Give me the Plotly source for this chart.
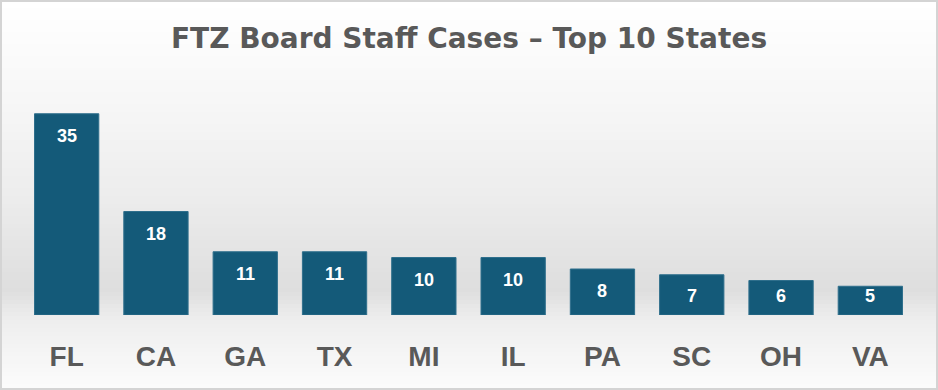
import plotly.graph_objects as go

states = ["FL", "CA", "GA", "TX", "MI", "IL", "PA", "SC", "OH", "VA"]
cases = [35, 18, 11, 11, 10, 10, 8, 7, 6, 5]
title_text = "FTZ Board Staff Cases \u2013 Top 10 States"

W, H = 938, 390
ML, MR, MT, MB = 22, 23, 85, 75
PH = H - MT - MB
YMAX = 40
PPU = PH / YMAX  # pixels per unit

TXT = "#595959"

fig = go.Figure()
fig.add_trace(go.Bar(
    x=states, y=cases,
    marker=dict(color="#145a79", line=dict(color="#2f6f8c", width=1)),
    hoverinfo="x+y",
))

# inside-end labels, kept clear of the baseline for short bars
for s, v in zip(states, cases):
    shift = min(22, v * PPU - 19)
    fig.add_annotation(x=s, y=v, text=f"<b>{v}</b>", showarrow=False,
                       yanchor="middle", yshift=-shift,
                       font=dict(family="Liberation Sans", size=18, color="white"))

# background gradient (white -> light grey -> white)
stops = [(0, 255), (100, 247), (200, 236), (290, 222), (320, 238), (390, 252)]

def grey_at(Y):
    for (y0, g0), (y1, g1) in zip(stops, stops[1:]):
        if y0 <= Y <= y1:
            t = (Y - y0) / (y1 - y0)
            return round(g0 + t * (g1 - g0))
    return 255

shapes = []
step = 4
for Y in range(0, H, step):
    g = grey_at(Y + step / 2)
    y0 = (H - MB - (Y + step)) / PH
    y1 = (H - MB - Y) / PH
    shapes.append(dict(type="rect", xref="paper", yref="paper",
                       x0=-ML / (W - ML - MR), x1=1 + MR / (W - ML - MR),
                       y0=y0, y1=y1, layer="below", line=dict(width=0),
                       fillcolor=f"rgb({g},{g},{g})"))
# outer border
shapes.append(dict(type="rect", xref="paper", yref="paper",
                   x0=-(ML - 1) / (W - ML - MR), x1=1 + (MR - 1) / (W - ML - MR),
                   y0=-(MB - 1) / PH, y1=1 + (MT - 1) / PH,
                   layer="above", line=dict(width=2, color="#d4d4d4"),
                   fillcolor="rgba(0,0,0,0)"))

fig.update_layout(
    width=W, height=H,
    margin=dict(l=ML, r=MR, t=MT, b=MB),
    paper_bgcolor="white", plot_bgcolor="rgba(0,0,0,0)",
    bargap=0.28,
    showlegend=False,
    shapes=shapes,
    title=dict(text=f"<b>{title_text}</b>", x=0.5, xanchor="center",
               y=1 - 38.5 / H, yanchor="middle",
               font=dict(family="DejaVu Sans", size=28, color=TXT)),
    xaxis=dict(showgrid=False, showline=False, zeroline=False, ticks="",
               tickfont=dict(family="Liberation Sans", size=28, color=TXT),
               tickprefix="<b>", ticksuffix="</b>", ticklabelstandoff=22),
    yaxis=dict(range=[0, YMAX], visible=False, showgrid=False, zeroline=False),
)

fig.write_html("out.html", config={"displayModeBar": False},
               post_script="document.body.style.margin='0';")
